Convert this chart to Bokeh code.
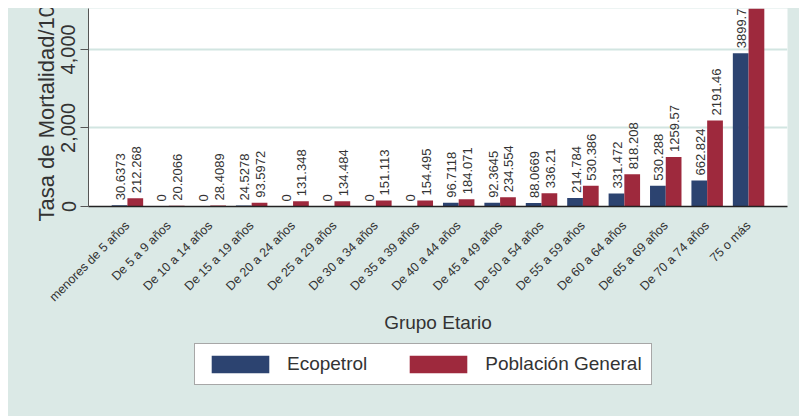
import math
from bokeh.plotting import figure
from bokeh.models import (FactorRange, Range1d, ColumnDataSource, Legend, LegendItem,
                          Title, NumeralTickFormatter, FixedTicker, Spacer)
from bokeh.layouts import row, column
from bokeh.transform import dodge
from bokeh.core.properties import value
from bokeh.embed import file_html
from bokeh.resources import INLINE

grupos = ["menores de 5 años", "De 5 a 9 años", "De 10 a 14 años", "De 15 a 19 años",
          "De 20 a 24 años", "De 25 a 29 años", "De 30 a 34 años", "De 35 a 39 años",
          "De 40 a 44 años", "De 45 a 49 años", "De 50 a 54 años", "De 55 a 59 años",
          "De 60 a 64 años", "De 65 a 69 años", "De 70 a 74 años", "75 o más"]
ecopetrol = [30.6373, 0, 0, 24.5278, 0, 0, 0, 0, 96.7118, 92.3645, 88.0669,
             214.784, 331.472, 530.288, 662.824, 3899.73]
poblacion = [212.268, 20.2066, 28.4089, 93.5972, 131.348, 134.484, 151.113, 154.495,
             184.071, 234.554, 336.21, 530.386, 818.208, 1259.57, 2191.46, 6000.0]
ecopetrol_txt = ["30.6373", "0", "0", "24.5278", "0", "0", "0", "0", "96.7118", "92.3645",
                 "88.0669", "214.784", "331.472", "530.288", "662.824", "3899.73"]
poblacion_txt = ["212.268", "20.2066", "28.4089", "93.5972", "131.348", "134.484", "151.113",
                 "154.495", "184.071", "234.554", "336.21", "530.386", "818.208", "1259.57",
                 "2191.46", "6000"]
series_names = ["Ecopetrol", "Población General"]
y_ticks = [0, 2000, 4000]

FONT = "Liberation Sans"
BLUE = "#2c4370"
RED = "#9e293d"
TEAL = "#dbe9e6"
GRID = "#d2e5e1"
TXT = "#333333"

src = ColumnDataSource(dict(g=grupos, e=ecopetrol, p=poblacion, et=ecopetrol_txt, pt=poblacion_txt))

# ---------------- main chart ----------------
p = figure(width=791, height=328, output_backend="svg", toolbar_location=None,
           x_range=FactorRange(*grupos, range_padding=0.055),
           y_range=Range1d(0, 5040),
           min_border_left=80, min_border_right=12, min_border_top=0, min_border_bottom=129)
p.background_fill_color = "white"
p.border_fill_color = TEAL
p.outline_line_color = None

W = 0.38
p.vbar(x=dodge("g", -W / 2, range=p.x_range), top="e", width=W, source=src,
       fill_color=BLUE, line_color=None)
p.vbar(x=dodge("g", W / 2, range=p.x_range), top="p", width=W, source=src,
       fill_color=RED, line_color=None)

for col, txt, off in (("e", "et", -W / 2), ("p", "pt", W / 2)):
    p.text(x=dodge("g", off, range=p.x_range), y=col, text=txt, source=src,
           angle=math.pi / 2, text_align="left", text_baseline="middle",
           x_offset=1, y_offset=-5,
           text_font=value(FONT), text_font_size="13px", text_color=TXT)

p.xgrid.grid_line_color = None
p.ygrid.ticker = FixedTicker(ticks=[2000, 4000])
p.ygrid.grid_line_color = GRID
p.ygrid.grid_line_width = 2

p.yaxis.ticker = FixedTicker(ticks=y_ticks)
p.yaxis.formatter = NumeralTickFormatter(format="0,0")
p.yaxis.major_label_orientation = "vertical"
p.yaxis.major_label_text_font = FONT
p.yaxis.major_label_text_font_size = "20px"
p.yaxis.major_label_text_color = TXT
p.yaxis.major_label_standoff = 5
p.yaxis.major_tick_out = 8
p.yaxis.major_tick_in = 0
p.yaxis.minor_tick_line_color = None
p.yaxis.axis_line_color = "#555555"
p.yaxis.major_tick_line_color = "#555555"

ytitle = Title(text="Tasa de Mortalidad/100.000", align="left", offset=-15,
               text_font=FONT, text_font_size="22px", text_font_style="normal",
               text_color=TXT, standoff=0)
p.add_layout(ytitle, "left")

p.xaxis.major_label_orientation = math.pi / 4
p.xaxis.major_label_text_font = FONT
p.xaxis.major_label_text_font_size = "12.5px"
p.xaxis.major_label_text_color = TXT
p.xaxis.major_label_standoff = 11
p.xaxis.major_tick_line_color = None
p.xaxis.axis_line_color = "#222222"
p.xaxis.axis_line_width = 1.5
p.xaxis.axis_label = "Grupo Etario"
p.xaxis.axis_label_text_font = FONT
p.xaxis.axis_label_text_font_size = "19px"
p.xaxis.axis_label_text_font_style = "normal"
p.xaxis.axis_label_text_color = TXT
p.xaxis.axis_label_standoff = 0

# ---------------- legend strip ----------------
pl = figure(width=791, height=80, output_backend="svg", toolbar_location=None,
            x_range=Range1d(0, 1), y_range=Range1d(0, 1),
            min_border=0, min_border_left=0, min_border_right=0,
            min_border_top=0, min_border_bottom=0)
pl.axis.visible = False
pl.grid.visible = False
pl.outline_line_color = None
pl.background_fill_alpha = 0
pl.border_fill_alpha = 0
pl.styles = {"background-color": TEAL}
# legend-only swatch renderers; their single bar lies fully outside the visible ranges
sw_src = ColumnDataSource(dict(x=[-5.0], top=[-4.0], bottom=[-5.0]))
l1 = pl.vbar(x="x", top="top", bottom="bottom", width=0.1, source=sw_src,
             fill_color=BLUE, line_color=None)
l2 = pl.vbar(x="x", top="top", bottom="bottom", width=0.1, source=sw_src,
             fill_color=RED, line_color=None)
legend = Legend(items=[LegendItem(label=series_names[0], renderers=[l1]),
                       LegendItem(label=series_names[1], renderers=[l2])],
                orientation="horizontal", location=(106, 31),
                glyph_width=72, glyph_height=22, label_standoff=11, spacing=35,
                padding=9, margin=0,
                label_text_font=FONT, label_text_font_size="19px", label_text_color=TXT,
                border_line_color="#505050", border_line_width=1.5,
                background_fill_color="white", background_fill_alpha=1.0)
pl.add_layout(legend)

inner = column(p, pl, styles={"background-color": TEAL})
layout = row(Spacer(width=8, height=416), column(Spacer(width=791, height=8), inner))
open("out.html", "w").write(file_html(layout, INLINE))
